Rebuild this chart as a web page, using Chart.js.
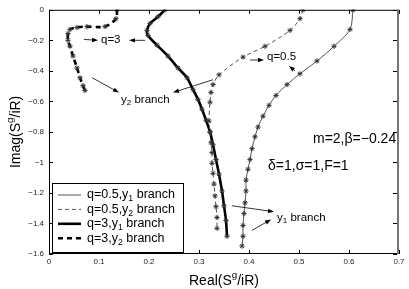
<!DOCTYPE html>
<html>
<head>
<meta charset="utf-8">
<script src="https://cdn.jsdelivr.net/npm/chart.js@4.4.1/dist/chart.umd.min.js"></script>
<style>
  html, body { margin: 0; padding: 0; background: #fff; }
  #wrap { width: 409px; height: 289px; }
</style>
</head>
<body>
<div id="wrap"><canvas id="c" width="409" height="289"></canvas></div>
<script>
// --- DATA ---
// q=0.5, y1 branch
const q05y1Re = [0.608, 0.602, 0.570, 0.536, 0.502, 0.476, 0.454, 0.440, 0.428, 0.418, 0.412, 0.406, 0.402, 0.398, 0.394, 0.394, 0.392, 0.390, 0.388, 0.388, 0.386];
const q05y1Im = [0, -0.129, -0.239, -0.335, -0.419, -0.490, -0.561, -0.626, -0.697, -0.768, -0.832, -0.910, -0.981, -1.045, -1.116, -1.187, -1.265, -1.335, -1.413, -1.484, -1.548];
// q=0.5, y2 branch
const q05y2Re = [0.508, 0.502, 0.482, 0.432, 0.388, 0.340, 0.328, 0.324, 0.322, 0.320, 0.322, 0.324, 0.326, 0.326, 0.328, 0.330, 0.332, 0.334, 0.336, 0.336];
const q05y2Im = [0, -0.058, -0.135, -0.239, -0.310, -0.426, -0.490, -0.542, -0.606, -0.729, -0.800, -0.871, -0.935, -1.006, -1.071, -1.142, -1.219, -1.290, -1.361, -1.432];
// q=3, y1 branch
const q3y1Re = [0.232, 0.218, 0.202, 0.196, 0.198, 0.216, 0.238, 0.258, 0.276, 0.288, 0.298, 0.306, 0.314, 0.322, 0.328, 0.334, 0.340, 0.346, 0.350, 0.354, 0.356];
const q3y1Im = [0, -0.045, -0.090, -0.135, -0.168, -0.232, -0.303, -0.381, -0.445, -0.523, -0.587, -0.652, -0.723, -0.800, -0.884, -0.981, -1.077, -1.187, -1.284, -1.381, -1.484];
// q=3, y2 branch
const q3y2Re = [0.136, 0.134, 0.112, 0.076, 0.056, 0.042, 0.038, 0.038, 0.042, 0.048, 0.056, 0.062, 0.068, 0.072];
const q3y2Im = [0, -0.058, -0.110, -0.110, -0.116, -0.129, -0.155, -0.200, -0.239, -0.303, -0.381, -0.445, -0.497, -0.529];

const xTicks = [0, 0.1, 0.2, 0.3, 0.4, 0.5, 0.6, 0.7];
const yTicks = [0, -0.2, -0.4, -0.6, -0.8, -1, -1.2, -1.4, -1.6];

const legendLabels = [
    [['q=0.5,y', ''], ['1', 'sub'], [' branch', '']],
    [['q=0.5,y', ''], ['2', 'sub'], [' branch', '']],
    [['q=3,y', ''], ['1', 'sub'], [' branch', '']],
    [['q=3,y', ''], ['2', 'sub'], [' branch', '']]
];

// annotation arrows, in data units: [x0, y0, x1, y1] (head at x1,y1)
const arrows = [
    [0.070, -0.194, 0.098, -0.200],
    [0.192, -0.200, 0.160, -0.200],
    [0.086, -0.445, 0.140, -0.542],
    [0.328, -0.458, 0.248, -0.542],
    [0.402, -0.329, 0.430, -0.329],
    [0.492, -0.400, 0.480, -0.368],
    [0.366, -1.284, 0.450, -1.323],
    [0.406, -1.445, 0.444, -1.374]
];
const notes = [
    { x: 0.104, y: -0.200, size: 11.5, parts: [['q=3', '']] },
    { x: 0.144, y: -0.587, size: 11.5, parts: [['y', ''], ['2', 'sub'], [' branch', '']] },
    { x: 0.436, y: -0.310, size: 11.5, parts: [['q=0.5', '']] },
    { x: 0.456, y: -1.361, size: 11.5, parts: [['y', ''], ['1', 'sub'], [' branch', '']] },
    { x: 0.528, y: -0.845, size: 14, parts: [['m=2,\u03b2=\u22120.24', '']] },
    { x: 0.438, y: -1.026, size: 14, parts: [['\u03b4=1,\u03c3=1,F=1', '']] }
];

const FONT = '"Liberation Sans", Arial, Helvetica, sans-serif';
const toPoints = (re, im) => re.map((v, i) => ({ x: v, y: im[i] }));

// draws text made of normal / sub / sup pieces
const richText = (ctx, parts, x, y, size, align) => {
    const widths = parts.map(([t, m]) => {
        ctx.font = (m ? size * 0.7 : size) + 'px ' + FONT;
        return ctx.measureText(t).width;
    });
    const total = widths.reduce((a, b) => a + b, 0);
    let cx = align === 'center' ? x - total / 2 : x;
    ctx.textAlign = 'left';
    ctx.textBaseline = 'middle';
    parts.forEach(([t, m], i) => {
        ctx.font = (m ? size * 0.7 : size) + 'px ' + FONT;
        const dy = m === 'sub' ? size * 0.32 : m === 'sup' ? -size * 0.4 : 0;
        ctx.fillText(t, cx, y + dy);
        cx += widths[i];
    });
};

const arrow = (ctx, x0, y0, x1, y1) => {
    const a = Math.atan2(y1 - y0, x1 - x0);
    ctx.beginPath();
    ctx.moveTo(x0, y0);
    ctx.lineTo(x1 - 4 * Math.cos(a), y1 - 4 * Math.sin(a));
    ctx.stroke();
    ctx.beginPath();
    ctx.moveTo(x1, y1);
    ctx.lineTo(x1 - 6 * Math.cos(a) + 2.2 * Math.sin(a), y1 - 6 * Math.sin(a) - 2.2 * Math.cos(a));
    ctx.lineTo(x1 - 6 * Math.cos(a) - 2.2 * Math.sin(a), y1 - 6 * Math.sin(a) + 2.2 * Math.cos(a));
    ctx.closePath();
    ctx.fill();
};

const framePlugin = {
    id: 'frame',
    afterDraw(chart) {
        const { ctx, chartArea: a, scales: { x, y } } = chart;
        ctx.save();
        // box
        ctx.strokeStyle = '#000';
        ctx.lineWidth = 1;
        ctx.beginPath();
        ctx.moveTo(a.right, a.top + 0.5);
        ctx.lineTo(a.left + 0.5, a.top + 0.5);
        ctx.lineTo(a.left + 0.5, a.bottom - 0.5);
        ctx.lineTo(a.right, a.bottom - 0.5);
        ctx.stroke();
        ctx.strokeStyle = '#777';
        ctx.lineWidth = 2;
        ctx.beginPath();
        ctx.moveTo(a.right - 1, a.top);
        ctx.lineTo(a.right - 1, a.bottom);
        ctx.stroke();
        // inward ticks
        ctx.strokeStyle = '#000';
        ctx.lineWidth = 1;
        ctx.beginPath();
        xTicks.forEach(v => {
            const px = Math.round(x.getPixelForValue(v)) + 0.5;
            ctx.moveTo(px, a.bottom); ctx.lineTo(px, a.bottom - 4);
            ctx.moveTo(px, a.top); ctx.lineTo(px, a.top + 4);
        });
        yTicks.forEach(v => {
            const py = Math.round(y.getPixelForValue(v)) + 0.5;
            ctx.moveTo(a.left, py); ctx.lineTo(a.left + 4, py);
            ctx.moveTo(a.right - 2, py); ctx.lineTo(a.right - 6, py);
        });
        ctx.stroke();

        // annotations
        ctx.fillStyle = '#000';
        ctx.strokeStyle = '#000';
        ctx.lineWidth = 0.8;
        arrows.forEach(([x0, y0, x1, y1]) => {
            arrow(ctx, x.getPixelForValue(x0), y.getPixelForValue(y0), x.getPixelForValue(x1), y.getPixelForValue(y1));
        });
        notes.forEach(n => richText(ctx, n.parts, x.getPixelForValue(n.x), y.getPixelForValue(n.y), n.size, 'left'));

        // legend box
        const lx = a.left + 3, ly = 183, lw = 131, lh = 69;
        ctx.fillStyle = '#fff';
        ctx.fillRect(lx, ly, lw, lh);
        ctx.strokeStyle = '#000';
        ctx.lineWidth = 1;
        ctx.strokeRect(lx + 0.5, ly + 0.5, lw, lh);
        chart.data.datasets.forEach((ds, i) => {
            const ry = ly + 12 + i * 14.4;
            ctx.strokeStyle = ds.borderColor;
            ctx.lineWidth = ds.borderWidth;
            ctx.setLineDash(ds.borderDash || []);
            ctx.beginPath();
            ctx.moveTo(lx + 6, ry);
            ctx.lineTo(lx + 29, ry);
            ctx.stroke();
            ctx.setLineDash([]);
            ctx.fillStyle = '#000';
            richText(ctx, legendLabels[i], lx + 35, ry, 12.5, 'left');
        });

        // axis titles
        ctx.fillStyle = '#000';
        richText(ctx, [['Real(S', ''], ['g', 'sup'], ['/iR)', '']], (a.left + a.right) / 2, 281, 14, 'center');
        ctx.translate(16, (a.top + a.bottom) / 2);
        ctx.rotate(-Math.PI / 2);
        richText(ctx, [['Imag(S', ''], ['g', 'sup'], ['/iR)', '']], 0, 0, 14, 'center');
        ctx.restore();
    }
};

const series = (re, im, color, width, dash) => ({
    data: toPoints(re, im),
    borderColor: color,
    borderWidth: width,
    borderDash: dash,
    tension: 0.3,
    pointStyle: 'star',
    pointRadius: 2.6,
    pointBorderColor: '#333',
    pointBorderWidth: 1,
    pointBackgroundColor: '#333',
    fill: false
});

new Chart(document.getElementById('c'), {
    type: 'line',
    data: {
        datasets: [
            series(q05y1Re, q05y1Im, '#555', 1, []),
            series(q05y2Re, q05y2Im, '#555', 1, [4, 3]),
            series(q3y1Re, q3y1Im, '#000', 2.6, []),
            series(q3y2Re, q3y2Im, '#000', 2.6, [5, 4])
        ]
    },
    options: {
        responsive: false,
        animation: false,
        devicePixelRatio: 1,
        layout: { padding: { top: 6, right: 10, left: 0, bottom: 0 } },
        plugins: { legend: { display: false }, tooltip: { enabled: false } },
        scales: {
            x: {
                type: 'linear', min: 0, max: 0.7,
                grid: { display: false, drawTicks: false },
                border: { display: false },
                afterBuildTicks: s => { s.ticks = xTicks.map(v => ({ value: v })); },
                afterFit: s => { s.height = 35; },
                ticks: {
                    padding: 3, color: '#222', maxRotation: 0,
                    font: { family: FONT, size: 8 },
                    callback: v => String(v)
                }
            },
            y: {
                type: 'linear', min: -1.6, max: 0,
                grid: { display: false, drawTicks: false },
                border: { display: false },
                afterBuildTicks: s => { s.ticks = yTicks.map(v => ({ value: v })); },
                afterFit: s => { s.width = 49; },
                ticks: {
                    padding: 5, color: '#222',
                    font: { family: FONT, size: 8 },
                    callback: v => v === 0 ? '0' : '\u2212' + String(Math.abs(v))
                }
            }
        }
    },
    plugins: [framePlugin]
});
</script>
</body>
</html>
